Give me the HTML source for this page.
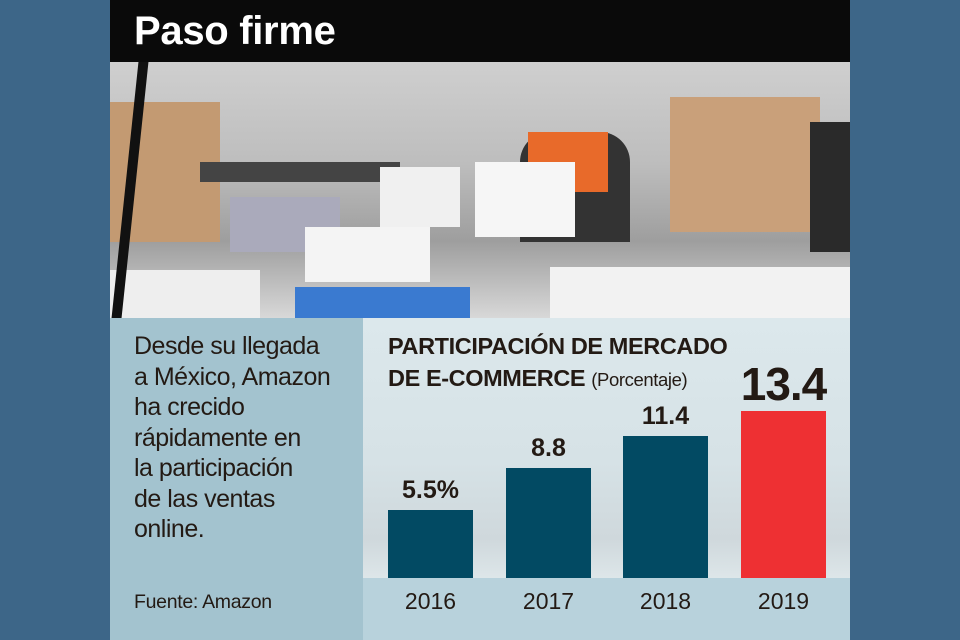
<!DOCTYPE html>
<html><head><meta charset="utf-8"><style>
body{margin:0;width:960px;height:640px;background:#3d6688;position:relative;overflow:hidden;font-family:"Liberation Sans",sans-serif}
.a{position:absolute}
.t{color:#231a14}
</style></head><body>
<div class="a" style="left:110px;top:0;width:740px;height:62px;background:#0a0a0a"></div>
<div class="a" style="left:134px;top:9px;color:#fff;font-weight:bold;font-size:40px;letter-spacing:-0.3px">Paso firme</div>
<!-- photo -->
<div class="a" style="left:110px;top:62px;width:740px;height:256px;background:linear-gradient(180deg,#cfcfcf 0%,#bdbdbd 40%,#9e9e9e 70%,#d8d8d8 100%);overflow:hidden">
 <div class="a" style="left:0;top:40px;width:110px;height:140px;background:#c39a72"></div>
 <div class="a" style="left:560px;top:35px;width:150px;height:135px;background:#c9a07a"></div>
 <div class="a" style="left:700px;top:60px;width:40px;height:130px;background:#2a2a2a"></div>
 <div class="a" style="left:90px;top:100px;width:200px;height:20px;background:#444"></div>
 <div class="a" style="left:120px;top:135px;width:110px;height:55px;background:#aab"></div>
 <div class="a" style="left:440px;top:205px;width:300px;height:51px;background:#f2f2f2"></div>
 <div class="a" style="left:0;top:208px;width:150px;height:48px;background:#eee"></div>
 <div class="a" style="left:195px;top:165px;width:125px;height:55px;background:#f4f4f4"></div>
 <div class="a" style="left:185px;top:225px;width:175px;height:31px;background:#3a7ad0"></div>
 <div class="a" style="left:270px;top:105px;width:80px;height:60px;background:#f0f0f0"></div>
 <div class="a" style="left:410px;top:70px;width:110px;height:110px;background:#333;border-radius:30px 30px 0 0"></div>
 <div class="a" style="left:418px;top:70px;width:80px;height:60px;background:#e86a2a"></div>
 <div class="a" style="left:365px;top:100px;width:100px;height:75px;background:#f6f6f6"></div>
 <div class="a" style="left:15px;top:0;width:10px;height:256px;background:#111;transform:skewX(-6deg)"></div>
</div>
<!-- left panel -->
<div class="a" style="left:110px;top:318px;width:253px;height:322px;background:#a3c3cf"></div>
<div class="a t" style="left:134px;top:331px;font-size:25px;line-height:30.5px;letter-spacing:-0.5px">Desde su llegada<br>a México, Amazon<br>ha crecido<br>rápidamente en<br>la participación<br>de las ventas<br>online.</div>
<div class="a t" style="left:134px;top:591px;font-size:19.5px;letter-spacing:-0.3px">Fuente: Amazon</div>
<!-- right panel -->
<div class="a" style="left:363px;top:318px;width:487px;height:260px;background:linear-gradient(180deg,#dce8ec 0%,#d6e2e6 55%,#cfd8dc 85%,#dde6e9 100%)"></div>
<div class="a" style="left:363px;top:578px;width:487px;height:62px;background:#b8d2dc"></div>
<div class="a t" style="left:388px;top:330px;font-size:23.5px;font-weight:bold;line-height:32px;letter-spacing:-0.4px">PARTICIPACIÓN DE MERCADO<br>DE E-COMMERCE <span style="font-weight:normal;font-size:18.5px">(Porcentaje)</span></div>
<div class="a" style="left:388px;top:510px;width:85px;height:68px;background:#024a63"></div>
<div class="a" style="left:506px;top:468px;width:85px;height:110px;background:#024a63"></div>
<div class="a" style="left:623px;top:436px;width:85px;height:142px;background:#024a63"></div>
<div class="a" style="left:741px;top:411px;width:85px;height:167px;background:#ee3033"></div>
<div class="a t" style="left:380px;top:476px;width:101px;text-align:center;font-size:25px;font-weight:bold">5.5%</div>
<div class="a t" style="left:498px;top:434px;width:101px;text-align:center;font-size:25px;font-weight:bold">8.8</div>
<div class="a t" style="left:615px;top:402px;width:101px;text-align:center;font-size:25px;font-weight:bold">11.4</div>
<div class="a t" style="left:725px;top:357px;width:117px;text-align:center;font-size:46px;font-weight:bold;letter-spacing:-1px">13.4</div>
<div class="a t" style="left:380px;top:588px;width:101px;text-align:center;font-size:23px">2016</div>
<div class="a t" style="left:498px;top:588px;width:101px;text-align:center;font-size:23px">2017</div>
<div class="a t" style="left:615px;top:588px;width:101px;text-align:center;font-size:23px">2018</div>
<div class="a t" style="left:733px;top:588px;width:101px;text-align:center;font-size:23px">2019</div>
</body></html>
